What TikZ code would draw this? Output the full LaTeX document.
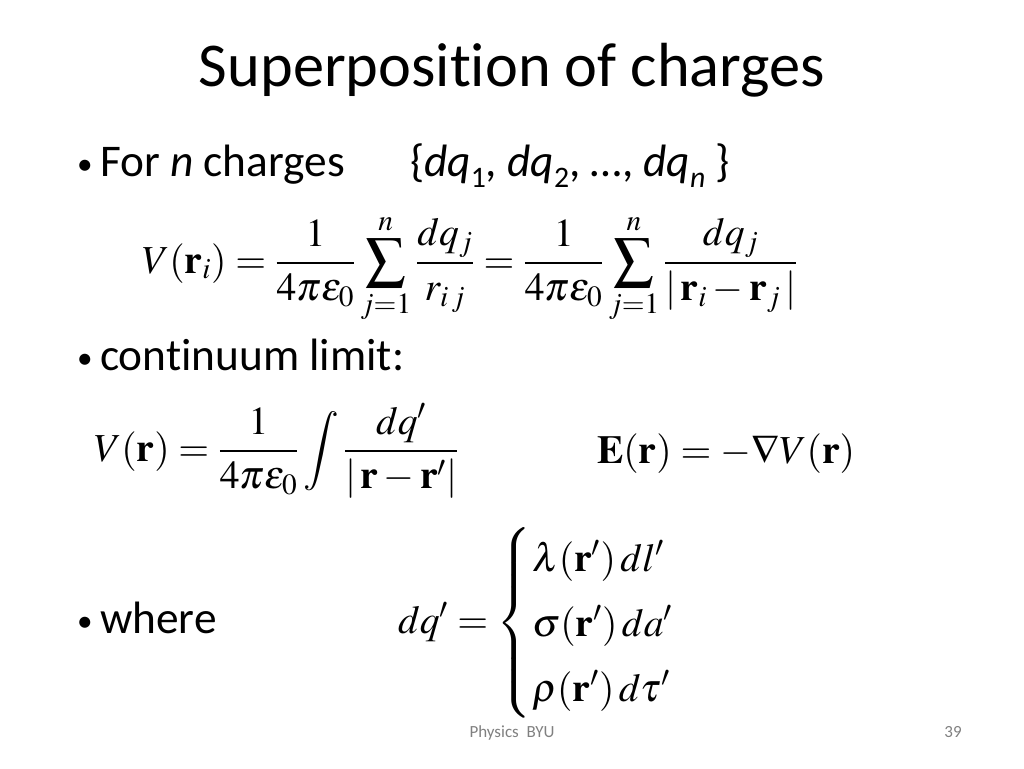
\documentclass[tikz,border=0pt]{standalone}
\usepackage{amsmath}
\usepackage{mathptmx}
\usepackage[no-math]{fontspec}
\setmainfont{Carlito}[Ligatures=NoCommon]

\newcommand\lowsub[1]{\raisebox{-8pt}{\fontsize{21}{24}\selectfont #1}}

\begin{document}
\begin{tikzpicture}[x=0.0248046875cm,y=-0.0248046875cm]
\tikzset{ inner sep=0pt, outer sep=0pt,
  title/.style={font=\fontsize{44}{52}\selectfont, anchor=base},
  dot/.style={font=\fontsize{22}{26}\selectfont, anchor=base},
  item/.style={font=\fontsize{32}{38}\selectfont, anchor=base west},
  eqn/.style={font=\fontsize{28}{34}\selectfont, anchor=base west},
  foot/.style={font=\fontsize{12}{14}\selectfont, text=gray, anchor=base},
}

\useasboundingbox [fill=white] (0,0) rectangle (1024,768);

\node [title] (T) at (512,87) {Superposition of charges};

% bullets
\node [dot]  (B1) at (85,174) {\textbullet};
\node [item] (I1) at (100,176) {For \textit{n} charges};
\node [item] (S1) at (410,176) {\{\textit{dq}\lowsub{1}, \textit{dq}\lowsub{2}, \dots, \textit{dq}\lowsub{\textit{n}} \}};

\node [dot]  (B2) at (85,368) {\textbullet};
\node [item] (I2) at (100,370) {continuum limit:};

\node [dot]  (B3) at (85,631) {\textbullet};
\node [item] (I3) at (100,633) {where};

% equations
\node [eqn] (Vi) at (142,273) {$\displaystyle V(\mathbf{r}_i)=\frac{1}{4\pi\varepsilon_0}\sum_{j=1}^{n}\frac{dq_j}{r_{i\,j}}
  =\frac{1}{4\pi\varepsilon_0}\sum_{j=1}^{n}\frac{dq_j}{|\,\mathbf{r}_i-\mathbf{r}_j\,|}$};

\node [eqn] (Vr) at (94,461) {$\displaystyle V(\mathbf{r})=\frac{1}{4\pi\varepsilon_0}\int\frac{dq^{\prime}}{|\,\mathbf{r}-\mathbf{r}^{\prime}|}$};
\node [eqn] (Er) at (597,463) {$\mathbf{E}(\mathbf{r})=-\nabla V(\mathbf{r})$};

\node [eqn] (dq) at (398,633) {$dq^{\prime}=\left\{\renewcommand\arraystretch{1.35}\begin{array}{@{}l@{}}
  \lambda(\mathbf{r}^{\prime})\,dl^{\prime}\\
  \sigma(\mathbf{r}^{\prime})\,da^{\prime}\\
  \rho(\mathbf{r}^{\prime})\,d\tau^{\prime}
  \end{array}\right.$};

% footer
\node [foot] (F) at (512,737) {Physics\ \ BYU};
\node [foot] (P) at (953,737) {39};
\end{tikzpicture}
\end{document}
